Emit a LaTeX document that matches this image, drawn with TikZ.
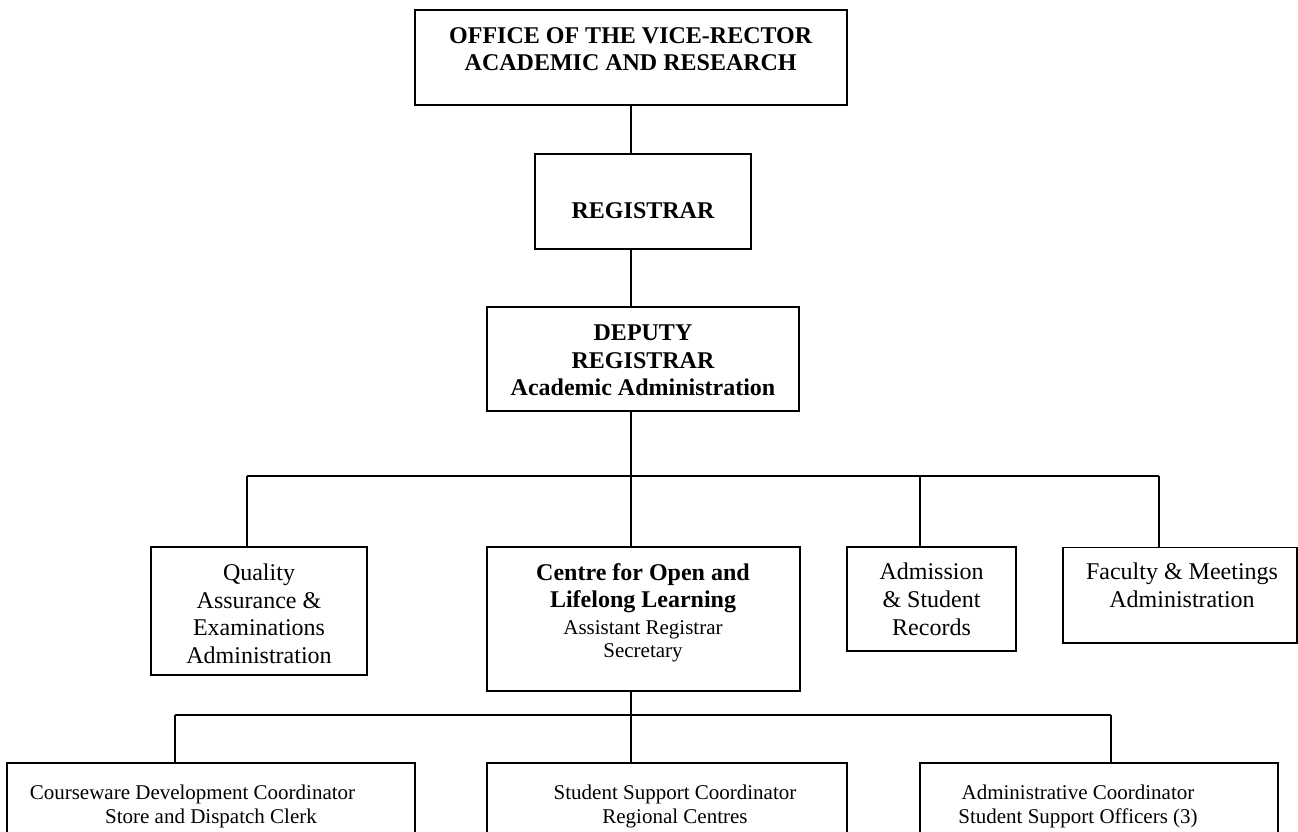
\documentclass[tikz,border=0pt]{standalone}
\usepackage{fontspec}
\setmainfont{Liberation Serif}
\begin{document}
\begin{tikzpicture}[x=1pt,y=-1pt,line width=1.7pt,
  box/.style={draw,rectangle,inner sep=0pt,outer sep=0pt,anchor=north west},
  big/.style={font=\fontsize{24}{27.6}\selectfont,align=center,anchor=base,inner sep=0pt},
  bigb/.style={font=\fontsize{24}{27.6}\selectfont\bfseries,align=center,anchor=base,inner sep=0pt},
  small/.style={font=\fontsize{21}{24}\selectfont,align=center,anchor=base,inner sep=0pt}]
\useasboundingbox (0,0) rectangle (1298,831);
\clip (0,0) rectangle (1298,831);
% boxes
\node[box,minimum width=432pt,minimum height=95pt] (office) at (414.7,10) {};
\node[box,minimum width=216pt,minimum height=95pt] (reg) at (535,154) {};
\node[box,minimum width=312pt,minimum height=104pt] (dep) at (487,307) {};
\node[box,minimum width=216.2pt,minimum height=128pt] (qa) at (150.8,547) {};
\node[box,minimum width=313.3pt,minimum height=144pt] (col) at (486.7,547) {};
\node[box,minimum width=169pt,minimum height=103.7pt] (adm) at (847,547) {};
\node[box,minimum width=234.3pt,minimum height=95.8pt] (fac) at (1062.7,547.5) {};
\node[box,minimum width=407.7pt,minimum height=90pt] (cw) at (7.3,763.3) {};
\node[box,minimum width=360pt,minimum height=90pt] (ss) at (487.3,763.3) {};
\node[box,minimum width=358pt,minimum height=90pt] (ac) at (920,763.3) {};
% texts (anchor base = baseline of the last line)
\node[bigb] (tOffice) at (630.7,70.7) {OFFICE OF THE VICE-RECTOR\\ACADEMIC AND RESEARCH};
\node[bigb] (tReg) at (643,218.3) {REGISTRAR};
\node[bigb] (tDep) at (643,395.7) {DEPUTY\\REGISTRAR\\Academic Administration};
\node[big] (tQa) at (259,663.3) {Quality\\Assurance \&\\Examinations\\Administration};
\node[bigb] (tCol) at (643,607.7) {Centre for Open and\\Lifelong Learning};
\node[small,font=\fontsize{21}{23}\selectfont] (tCol2) at (643,657.3) {Assistant Registrar\\Secretary};
\node[big] (tAdm) at (931.5,635) {Admission\\\& Student\\Records};
\node[big] (tFac) at (1182,607.3) {Faculty \& Meetings\\Administration};
\node[small] (tCw) at (211,823.3) {Courseware Development Coordinator\hspace*{37pt}\\Store and Dispatch Clerk};
\node[small] (tSs) at (675,823.3) {Student Support Coordinator\\Regional Centres};
\node[small] (tAc) at (1078,823.3) {Administrative Coordinator\\Student Support Officers (3)};
% connectors
\coordinate (spine) at (office.south);
\coordinate (bus1) at (630.7,475.7);
\coordinate (b1l) at (247,475.7);
\coordinate (b1a) at (920,475.7);
\coordinate (b1r) at (1159,475.7);
\coordinate (bus2) at (630.7,715);
\coordinate (b2l) at (175,715);
\coordinate (b2r) at (1111,715);
\draw (spine) -- (spine |- reg.north);
\draw (spine |- reg.south) -- (spine |- dep.north);
\draw (spine |- dep.south) -- (bus1);
\draw (b1l) -- (b1r);
\draw (b1l) -- (b1l |- qa.north);
\draw (bus1) -- (spine |- col.north);
\draw (b1a) -- (b1a |- adm.north);
\draw (b1r) -- (b1r |- fac.north);
\draw (spine |- col.south) -- (bus2);
\draw (b2l) -- (b2r);
\draw (b2l) -- (b2l |- cw.north);
\draw (bus2) -- (spine |- ss.north);
\draw (b2r) -- (b2r |- ac.north);
\end{tikzpicture}
\end{document}
